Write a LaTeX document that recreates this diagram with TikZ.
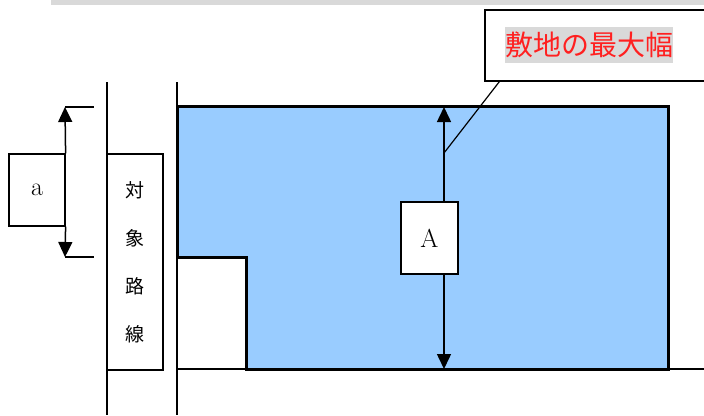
\documentclass[tikz,border=0pt]{standalone}
\usepackage{fontspec}
\newfontfamily\cjk{Noto Sans CJK JP}
\usepackage{xcolor}
\usetikzlibrary{arrows.meta}
\definecolor{siteblue}{HTML}{99CCFF}
\definecolor{bargray}{HTML}{D9D9D9}
\definecolor{notered}{HTML}{FF2020}

\tikzset{
  labelbox/.style={draw, fill=white, line width=1.2pt, inner sep=0pt},
  dimline/.style={line width=1.5pt, -{Triangle[width=14pt,length=15pt]}},
  thinline/.style={line width=1.2pt}
}

\begin{document}
\begin{tikzpicture}[x=1pt, y=-1pt]
     \useasboundingbox (0,0) rectangle (704,415);
     \fill[bargray] (51,0) rectangle (704,5);

     % road and site
     \draw[thinline] (107,82) -- (107,415);
     \draw[thinline] (177,82) -- (177,415);
     \draw[thinline] (177,369) -- (246,369);
     \draw[thinline] (668,369) -- (704,369);
     \draw[line width=3pt, fill=siteblue] (177,106) -- (668,106) -- (668,369)
          -- (246,369) -- (246,257) -- (177,257) -- cycle;

     \coordinate (atop) at (65,107);
     \coordinate (abot) at (65,257);
     \coordinate (Atop) at (444,107);
     \coordinate (Abot) at (444,369);
     \coordinate (lead) at (444,153);

     \node[labelbox, minimum width=56pt, minimum height=72pt, font=\fontsize{26}{26}\selectfont] (abox) at (37,190) {a};
     \node[labelbox, minimum width=56pt, minimum height=216pt, align=center,
           font=\cjk\fontsize{19}{48}\selectfont] (road) at (135,262) {対\\象\\路\\線};
     \node[labelbox, minimum width=57pt, minimum height=72pt, font=\fontsize{26}{26}\selectfont] (Abox) at (429.5,238) {A};
     \node[labelbox, minimum width=240pt, minimum height=71pt] (note) at (605,45.5) {};
     \node[fill=bargray, text=notered, inner xsep=0pt, minimum height=36pt,
           font=\cjk\fontsize{28}{28}\selectfont] (title) at (589,45) {敷地の最大幅};

     \draw[thinline] (atop) -- (94,107);
     \draw[thinline] (abot) -- (94,257);
     \draw[dimline] (abox.north east) -- (atop);
     \draw[dimline] (abox.south east) -- (abot);
     \draw[dimline] (Abox.north -| Atop) -- (Atop);
     \draw[dimline] (Abox.south -| Abot) -- (Abot);
     \draw[thinline] (note.south west) ++(15,0) coordinate (nfoot) -- (lead);
     \end{tikzpicture}
\end{document}
